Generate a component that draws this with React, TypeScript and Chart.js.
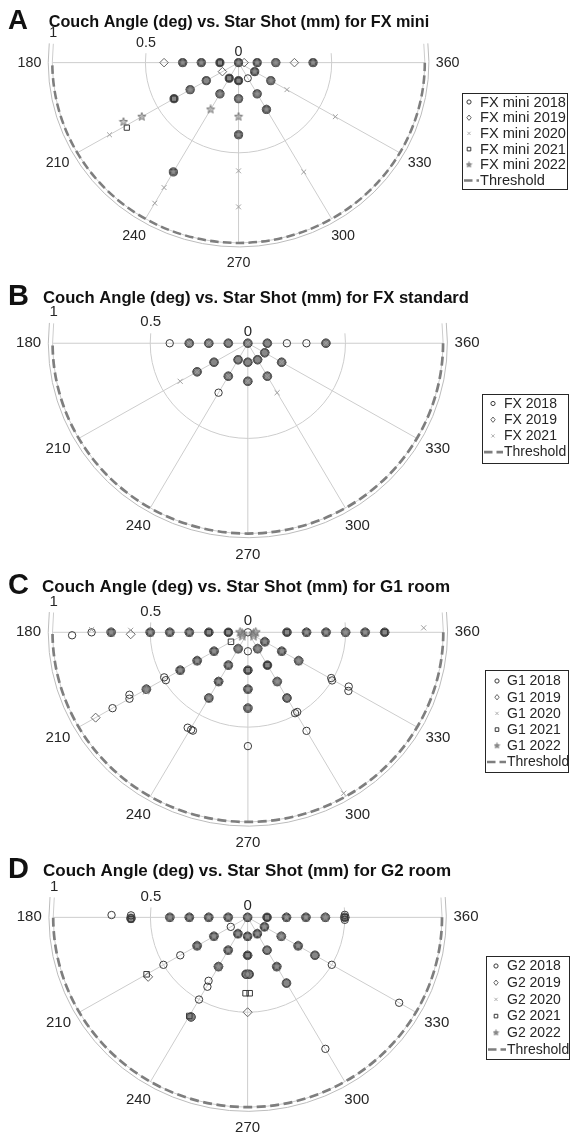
import React, { useEffect, useRef } from "react";
import { Chart, registerables } from "chart.js";

Chart.register(...registerables);

// [couch angle (deg), star shot (mm)]
type Pt = [number, number];

const THETA_TICKS = [180, 210, 240, 270, 300, 330, 360];
const R_TICKS = [0, 0.5, 1];
const R_TICK_LABELS = ["0", "0.5", "1"];
const THRESHOLD_MM = 1;

// ---------- Panel A: FX mini ----------
const A_NAMES = ["FX mini 2018", "FX mini 2019", "FX mini 2020", "FX mini 2021", "FX mini 2022"];
const A_2018: Pt[] = [[180, 0.3], [180, 0.2], [180, 0.1], [270, 0], [360, 0.1], [360, 0.2], [360, 0.4], [210, 0.2], [210, 0.3], [210, 0.4], [240, 0.1], [240, 0.2], [270, 0.1], [270, 0.2], [300, 0.1], [300, 0.2], [330, 0.1], [330, 0.2]];
const A_2019: Pt[] = [[180, 0.4], [180, 0.3], [180, 0.2], [360, 0.03], [360, 0.2], [360, 0.3], [360, 0.4], [210, 0.1], [210, 0.2], [210, 0.3], [240, 0.2], [270, 0.2], [300, 0.2], [300, 0.3], [330, 0.2]];
const A_2020: Pt[] = [[210, 0.8], [240, 0.8], [240, 0.9], [270, 0.6], [270, 0.8], [300, 0.7], [330, 0.3], [330, 0.6]];
const A_2021: Pt[] = [[180, 0.1], [180, 0.2], [180, 0.3], [270, 0], [360, 0.1], [360, 0.4], [210, 0.4], [211, 0.7], [240, 0.1], [240, 0.7], [270, 0.1], [270, 0.4], [300, 0.3], [330, 0.1]];
const A_2022: Pt[] = [[180, 0.2], [180, 0.3], [270, 0], [360, 0.1], [360, 0.2], [360, 0.4], [210, 0.3], [210, 0.6], [208, 0.7], [240, 0.2], [240, 0.3], [240, 0.7], [270, 0.2], [270, 0.3], [270, 0.4], [300, 0.2], [300, 0.3], [330, 0.1], [330, 0.2]];

// ---------- Panel B: FX standard ----------
const B_NAMES = ["FX 2018", "FX 2019", "FX 2021"];
const B_2018: Pt[] = [[180, 0.4], [180, 0.3], [180, 0.2], [180, 0.1], [270, 0], [360, 0.1], [360, 0.2], [360, 0.3], [360, 0.4], [210, 0.2], [210, 0.3], [240, 0.1], [240, 0.2], [240, 0.3], [270, 0.1], [270, 0.2], [300, 0.1], [300, 0.2], [330, 0.1], [330, 0.2]];
const B_2019: Pt[] = [[180, 0.3], [180, 0.2], [180, 0.1], [270, 0], [360, 0.1], [360, 0.4], [210, 0.2], [210, 0.3], [240, 0.1], [240, 0.2], [270, 0.1], [270, 0.2], [300, 0.1], [300, 0.2], [330, 0.1], [330, 0.2]];
const B_2021: Pt[] = [[180, 0.3], [180, 0.2], [270, 0], [360, 0.4], [210, 0.3], [210, 0.4], [240, 0.2], [270, 0.2], [300, 0.2], [300, 0.3], [330, 0.2]];

// ---------- Panel C: G1 room ----------
const C_NAMES = ["G1 2018", "G1 2019", "G1 2020", "G1 2021", "G1 2022"];
const C_2018: Pt[] = [[181, 0.9], [180, 0.8], [180, 0.5], [180, 0.4], [180, 0.3], [180, 0.2], [180, 0.1], [270, 0], [360, 0.2], [360, 0.3], [360, 0.4], [360, 0.5], [360, 0.6], [360, 0.7], [210, 0.2], [210, 0.3], [210, 0.4], [209, 0.49], [211, 0.49], [210, 0.6], [208.5, 0.69], [210, 0.7], [210, 0.8], [240, 0.1], [240, 0.2], [240, 0.3], [240, 0.4], [238.5, 0.59], [240.5, 0.59], [241.5, 0.59], [270, 0.1], [270, 0.2], [270, 0.3], [270, 0.6], [300, 0.1], [300, 0.2], [300, 0.3], [300, 0.4], [301, 0.49], [299.5, 0.49], [300, 0.6], [329.5, 0.5], [330.5, 0.49], [331, 0.59], [329, 0.6], [330, 0.1], [330, 0.2], [330, 0.3]];
const C_2019: Pt[] = [[180, 0.5], [180, 0.4], [180, 0.3], [180, 0.2], [181, 0.6], [360, 0.2], [360, 0.3], [360, 0.4], [360, 0.5], [360, 0.6], [360, 0.7], [210, 0.2], [210, 0.3], [210, 0.4], [210, 0.6], [210, 0.9], [240, 0.1], [240, 0.2], [240, 0.3], [270, 0.2], [270, 0.3], [300, 0.1], [300, 0.3], [300, 0.4], [330, 0.1], [330, 0.2], [330, 0.3]];
const C_2020: Pt[] = [[179, 0.8], [179, 0.6], [180, 0.5], [180, 0.4], [361.5, 0.9], [211, 0.61], [300, 0.98], [240, 0.4]];
const C_2021: Pt[] = [[180, 0.7], [180, 0.5], [180, 0.4], [180, 0.3], [180, 0.2], [180, 0.1], [360, 0.2], [360, 0.3], [360, 0.4], [360, 0.6], [360, 0.7], [210, 0.1], [210, 0.2], [210, 0.3], [210, 0.4], [240, 0.2], [240, 0.3], [270, 0.2], [270, 0.3], [270, 0.4], [300, 0.2], [330, 0.1], [330, 0.2]];
const C_2022: Pt[] = [[180, 0.7], [180, 0.5], [180, 0.4], [180, 0.3], [180, 0.04], [195, 0.03], [345, 0.03], [360, 0.04], [215, 0.035], [325, 0.035], [360, 0.3], [360, 0.4], [360, 0.5], [360, 0.6], [210, 0.2], [210, 0.3], [210, 0.4], [210, 0.6], [240, 0.1], [240, 0.2], [240, 0.3], [240, 0.4], [270, 0.3], [270, 0.4], [300, 0.1], [300, 0.3], [330, 0.1], [330, 0.2], [330, 0.3]];

// ---------- Panel D: G2 room ----------
const D_NAMES = ["G2 2018", "G2 2019", "G2 2020", "G2 2021", "G2 2022"];
const D_2018: Pt[] = [[179, 0.7], [179, 0.6], [180.5, 0.6], [180, 0.3], [180, 0.2], [180, 0.1], [270, 0], [360, 0.1], [360, 0.2], [360, 0.3], [360, 0.4], [358.5, 0.5], [360, 0.5], [361.5, 0.5], [210, 0.1], [210, 0.2], [210, 0.3], [210, 0.4], [210, 0.5], [240, 0.1], [240, 0.2], [240, 0.3], [239, 0.39], [240.5, 0.42], [240, 0.5], [270, 0.1], [270, 0.2], [268.5, 0.3], [271.5, 0.3], [300, 0.1], [300, 0.2], [300, 0.3], [300, 0.4], [300, 0.8], [330, 0.1], [330, 0.2], [330, 0.3], [330, 0.4], [330, 0.5], [330, 0.9]];
const D_2019: Pt[] = [[180, 0.3], [180, 0.2], [180, 0.1], [360, 0.2], [360, 0.3], [360, 0.4], [360, 0.5], [210, 0.2], [210, 0.3], [211.5, 0.6], [240, 0.2], [240, 0.3], [241, 0.6], [270, 0.2], [270, 0.5], [300, 0.2], [300, 0.3], [300, 0.4], [330, 0.2], [330, 0.3], [330, 0.4]];
const D_2020: Pt[] = [[180, 0.2], [360, 0.2], [360, 0.3], [330, 0.2]];
const D_2021: Pt[] = [[181, 0.6], [180, 0.4], [180, 0.3], [180, 0.2], [180, 0.1], [360, 0.1], [360, 0.2], [360, 0.3], [360, 0.5], [210, 0.2], [210, 0.3], [210, 0.6], [240, 0.1], [240, 0.2], [240, 0.6], [270, 0.1], [270, 0.2], [268.5, 0.4], [271.5, 0.4], [300, 0.1], [300, 0.3], [330, 0.1], [330, 0.3]];
const D_2022: Pt[] = [[180, 0.4], [180, 0.3], [180, 0.2], [180, 0.1], [270, 0], [360, 0.2], [360, 0.3], [360, 0.4], [210, 0.2], [210, 0.3], [240, 0.1], [240, 0.2], [240, 0.3], [270, 0.1], [270, 0.3], [300, 0.1], [300, 0.3], [330, 0.1], [330, 0.2], [330, 0.3]];

// ---------- layout / styling ----------
const W = 582;
const FONT = '"Liberation Sans", Arial, Helvetica, sans-serif';
const TEXT = "#262626";
const GRID = "#cdcdcd";
const EDGE = "#bcbcbc";
const THETA_MIN = 174;
const THETA_MAX = 366;
const EDGE_R = 1.022;
const D2R = Math.PI / 180;

type MarkerKind = "circle" | "diamond" | "x" | "square" | "star";

interface LegendBox { left: number; right: number; top: number; bottom: number; first: number; row: number; markerX: number; textX: number; font: number; }
interface PanelDef {
  letter: string; title: string; names: string[]; series: Pt[][]; kinds: MarkerKind[];
  top: number; height: number; cx: number; cy: number; kx: number; ky: number; s: number;
  titleBase: number; titleX: number; titleSize: number; legend: LegendBox;
}

const PANELS: PanelDef[] = [
  {
    letter: "A", title: "Couch Angle (deg) vs. Star Shot (mm) for FX mini", names: A_NAMES,
    series: [A_2018, A_2019, A_2020, A_2021, A_2022], kinds: ["circle", "diamond", "x", "square", "star"],
    top: 0, height: 282, cx: 237.5, cy: 59.3, kx: 190, ky: 188, s: 0.95, titleBase: 26.5, titleX: 239, titleSize: 16.2,
    legend: { left: 462, right: 567, top: 93, bottom: 189, first: 102, row: 15.7, markerX: 469, textX: 480, font: 14.6 },
  },
  {
    letter: "B", title: "Couch Angle (deg) vs. Star Shot (mm) for FX standard", names: B_NAMES,
    series: [B_2018, B_2019, B_2021], kinds: ["circle", "diamond", "x"],
    top: 282, height: 283, cx: 247, cy: 340, kx: 199, ky: 198, s: 1, titleBase: 302.5, titleX: 256, titleSize: 16.6,
    legend: { left: 482, right: 568, top: 394, bottom: 463, first: 403.5, row: 16.2, markerX: 493, textX: 504, font: 14 },
  },
  {
    letter: "C", title: "Couch Angle (deg) vs. Star Shot (mm) for G1 room", names: C_NAMES,
    series: [C_2018, C_2019, C_2020, C_2021, C_2022], kinds: ["circle", "diamond", "x", "square", "star"],
    top: 565, height: 285, cx: 247, cy: 629, kx: 199.5, ky: 198, s: 1, titleBase: 592, titleX: 246, titleSize: 17,
    legend: { left: 485, right: 568, top: 670, bottom: 772, first: 681, row: 16.2, markerX: 497, textX: 507, font: 14 },
  },
  {
    letter: "D", title: "Couch Angle (deg) vs. Star Shot (mm) for G2 room", names: D_NAMES,
    series: [D_2018, D_2019, D_2020, D_2021, D_2022], kinds: ["circle", "diamond", "x", "square", "star"],
    top: 850, height: 290, cx: 246.7, cy: 914, kx: 198.5, ky: 198, s: 1, titleBase: 875.5, titleX: 247, titleSize: 17,
    legend: { left: 486, right: 569, top: 956, bottom: 1059, first: 966, row: 16.7, markerX: 496, textX: 507, font: 14 },
  },
];

const toXY = (p: Pt) => ({ x: p[1] * Math.cos(p[0] * D2R), y: p[1] * Math.sin(p[0] * D2R) });

function makeStar(size: number, fill: string, stroke: string): HTMLCanvasElement {
  const c = document.createElement("canvas");
  c.width = size;
  c.height = size;
  const g = c.getContext("2d")!;
  const R = size / 2 - 0.7;
  const r = R * 0.42;
  g.beginPath();
  for (let i = 0; i < 10; i++) {
    const a = -Math.PI / 2 + (i * Math.PI) / 5;
    const rr = i % 2 ? r : R;
    g.lineTo(size / 2 + rr * Math.cos(a), size / 2 + rr * Math.sin(a));
  }
  g.closePath();
  g.fillStyle = fill;
  g.fill();
  g.strokeStyle = stroke;
  g.lineWidth = 0.9;
  g.stroke();
  return c;
}

function clusterPoints(series: Pt[][]) {
  const flat = series.flatMap((ser, si) => ser.map((p) => ({ ...toXY(p), si })));
  const used = new Set<number>();
  const out: { x: number; y: number }[] = [];
  flat.forEach((a, i) => {
    if (used.has(i)) return;
    const group = flat.map((b, j) => ({ b, j })).filter(({ b }) => Math.hypot(a.x - b.x, a.y - b.y) < 0.012);
    const distinct = new Set(group.map((g) => g.b.si));
    if (distinct.size >= 2) {
      group.forEach((g) => used.add(g.j));
      out.push({ x: a.x, y: a.y });
    }
  });
  return out;
}

function datasetStyle(kind: MarkerKind, s: number, star: HTMLCanvasElement) {
  switch (kind) {
    case "circle":
      return { pointStyle: "circle", pointRadius: 3.7 * s, borderColor: "#3a3a3a", backgroundColor: "rgba(0,0,0,0)", borderWidth: 1 };
    case "diamond":
      return { pointStyle: "rectRot", pointRadius: 4.5 * s, borderColor: "#666666", backgroundColor: "rgba(0,0,0,0)", borderWidth: 1 };
    case "x":
      return { pointStyle: "crossRot", pointRadius: 3.6 * s, borderColor: "#a0a0a0", backgroundColor: "rgba(0,0,0,0)", borderWidth: 1 };
    case "square":
      return { pointStyle: "rect", pointRadius: 3.9 * s, borderColor: "#383838", backgroundColor: "rgba(0,0,0,0)", borderWidth: 1 };
    default:
      return { pointStyle: star as any, pointRadius: 5 * s, borderColor: "#777777", backgroundColor: "#999999", borderWidth: 1 };
  }
}

function drawLegendMarker(ctx: CanvasRenderingContext2D, kind: MarkerKind, x: number, y: number, star: HTMLCanvasElement) {
  ctx.save();
  ctx.lineWidth = 1;
  ctx.beginPath();
  if (kind === "circle") {
    ctx.strokeStyle = "#3a3a3a";
    ctx.arc(x, y, 2.1, 0, Math.PI * 2);
    ctx.stroke();
  } else if (kind === "diamond") {
    ctx.strokeStyle = "#666";
    ctx.moveTo(x, y - 2.7); ctx.lineTo(x + 2.2, y); ctx.lineTo(x, y + 2.7); ctx.lineTo(x - 2.2, y); ctx.closePath();
    ctx.stroke();
  } else if (kind === "x") {
    ctx.strokeStyle = "#b0b0b0";
    ctx.moveTo(x - 1.6, y - 1.6); ctx.lineTo(x + 1.6, y + 1.6); ctx.moveTo(x + 1.6, y - 1.6); ctx.lineTo(x - 1.6, y + 1.6);
    ctx.stroke();
  } else if (kind === "square") {
    ctx.strokeStyle = "#383838";
    ctx.rect(x - 1.8, y - 1.8, 3.6, 3.6);
    ctx.stroke();
  } else {
    ctx.drawImage(star, x - star.width / 2, y - star.height / 2);
  }
  ctx.restore();
}

function polarPlugin(p: PanelDef, legendStar: HTMLCanvasElement) {
  return {
    id: "polarDecor" + p.letter,
    beforeDatasetsDraw(chart: any) {
      const ctx: CanvasRenderingContext2D = chart.ctx;
      const xs = chart.scales.x;
      const ys = chart.scales.y;
      const ox = xs.getPixelForValue(0);
      const oy = ys.getPixelForValue(0);
      const RX = (r: number) => xs.getPixelForValue(r) - ox;
      const RY = (r: number) => oy - ys.getPixelForValue(r);
      const P = (deg: number, r: number): [number, number] => [ox + RX(r) * Math.cos(deg * D2R), oy - RY(r) * Math.sin(deg * D2R)];
      const s = p.s;
      ctx.save();
      ctx.lineWidth = 1;
      // rings
      ctx.strokeStyle = GRID;
      R_TICKS.forEach((r) => {
        if (r <= 0) return;
        ctx.beginPath();
        ctx.ellipse(ox, oy, RX(r), RY(r), 0, -THETA_MAX * D2R, -THETA_MIN * D2R);
        ctx.stroke();
      });
      // axes edge
      ctx.strokeStyle = EDGE;
      ctx.beginPath();
      ctx.ellipse(ox, oy, RX(EDGE_R), RY(EDGE_R), 0, -THETA_MAX * D2R, -THETA_MIN * D2R);
      ctx.stroke();
      // spokes
      ctx.strokeStyle = GRID;
      const rMax = R_TICKS[R_TICKS.length - 1];
      THETA_TICKS.forEach((t) => {
        const a = P(t, 0);
        const b = P(t, rMax);
        ctx.beginPath();
        ctx.moveTo(a[0], a[1]);
        ctx.lineTo(b[0], b[1]);
        ctx.stroke();
      });
      // threshold
      ctx.strokeStyle = "#7e7e7e";
      ctx.lineWidth = 2.7 * s;
      ctx.setLineDash([9 * s, 4.5 * s]);
      ctx.beginPath();
      ctx.ellipse(ox, oy, RX(THRESHOLD_MM), RY(THRESHOLD_MM), 0, -360 * D2R, -180 * D2R);
      ctx.stroke();
      ctx.setLineDash([]);
      // theta tick labels
      ctx.fillStyle = TEXT;
      ctx.font = `${15 * s}px ${FONT}`;
      ctx.textAlign = "center";
      ctx.textBaseline = "middle";
      THETA_TICKS.forEach((t) => {
        const x = ox + (RX(rMax) + 24 * s) * Math.cos(t * D2R);
        const y = oy - (RY(rMax) + 21 * s) * Math.sin(t * D2R);
        ctx.fillText(String(t), x, y);
      });
      // r tick labels along the start edge
      R_TICKS.forEach((r, i) => {
        const q = P(THETA_MIN, r);
        ctx.fillText(R_TICK_LABELS[i], q[0], q[1] - 11 * s);
      });
      ctx.restore();
    },
    afterDraw(chart: any) {
      const ctx: CanvasRenderingContext2D = chart.ctx;
      const T = p.top;
      ctx.save();
      // panel letter + title
      ctx.fillStyle = "#111";
      ctx.textBaseline = "alphabetic";
      ctx.textAlign = "left";
      ctx.font = `bold ${29 * p.s}px ${FONT}`;
      ctx.fillText(p.letter, 8, p.titleBase + 2 - T);
      ctx.font = `bold ${p.titleSize}px ${FONT}`;
      ctx.textAlign = "center";
      ctx.fillText(p.title, p.titleX, p.titleBase - T);
      // legend
      const L = p.legend;
      ctx.fillStyle = "#fff";
      ctx.fillRect(L.left, L.top - T, L.right - L.left, L.bottom - L.top);
      ctx.strokeStyle = "#262626";
      ctx.lineWidth = 1;
      ctx.strokeRect(Math.round(L.left) + 0.5, Math.round(L.top - T) + 0.5, Math.round(L.right - L.left), Math.round(L.bottom - L.top));
      ctx.font = `${L.font}px ${FONT}`;
      ctx.textAlign = "left";
      ctx.textBaseline = "middle";
      ctx.fillStyle = TEXT;
      const labels = [...p.names, "Threshold"];
      labels.forEach((name, i) => {
        const y = L.first + i * L.row - T;
        if (i < p.names.length) {
          drawLegendMarker(ctx, p.kinds[i], L.markerX, y, legendStar);
        } else {
          ctx.save();
          ctx.strokeStyle = "#7e7e7e";
          ctx.lineWidth = 2.6;
          ctx.setLineDash([8.5, 4]);
          ctx.beginPath();
          ctx.moveTo(L.left + 2, y);
          ctx.lineTo(L.textX - 1, y);
          ctx.stroke();
          ctx.restore();
        }
        ctx.fillStyle = TEXT;
        ctx.fillText(name, L.textX, y + 0.5);
      });
      ctx.restore();
    },
  };
}

function PolarPanel({ def }: { def: PanelDef }) {
  const ref = useRef<HTMLCanvasElement>(null);
  useEffect(() => {
    const canvas = ref.current;
    if (!canvas) return;
    const s = def.s;
    const star = makeStar(Math.round(11 * s), "rgba(150,150,150,0.55)", "#707070");
    const legendStar = makeStar(7, "#8a8a8a", "#777");
    const cyRel = def.cy - def.top;
    const seriesSets = def.series.map((ser, i) => ({
      label: def.names[i],
      data: ser.map(toXY),
      ...datasetStyle(def.kinds[i], s, star),
    }));
    const under = {
      label: "overlap",
      data: clusterPoints(def.series),
      pointStyle: "circle",
      pointRadius: 4.3 * s,
      backgroundColor: "#878787",
      borderColor: "#474747",
      borderWidth: 1,
    };
    // first dataset is drawn on top: later years on top, overlap underlay at bottom
    const datasets: any[] = [...seriesSets.slice().reverse(), under];
    const chart = new Chart(canvas, {
      type: "scatter",
      data: { datasets },
      options: {
        animation: false,
        responsive: false,
        maintainAspectRatio: false,
        events: [],
        layout: { padding: 0 },
        plugins: { legend: { display: false }, tooltip: { enabled: false }, title: { display: false } },
        scales: {
          x: { type: "linear", display: false, min: -def.cx / def.kx, max: (W - def.cx) / def.kx },
          y: { type: "linear", display: false, min: -(def.height - cyRel) / def.ky, max: cyRel / def.ky },
        },
      },
      plugins: [polarPlugin(def, legendStar) as any],
    });
    return () => chart.destroy();
  }, [def]);
  return (
    <canvas
      ref={ref}
      width={W}
      height={def.height}
      style={{ position: "absolute", left: 0, top: def.top, width: W, height: def.height, display: "block" }}
    />
  );
}

export default function App() {
  return (
    <div style={{ position: "absolute", left: 0, top: 0, width: W, height: 1140, background: "#fff", overflow: "hidden" }}>
      {PANELS.map((p) => (
        <PolarPanel key={p.letter} def={p} />
      ))}
    </div>
  );
}
